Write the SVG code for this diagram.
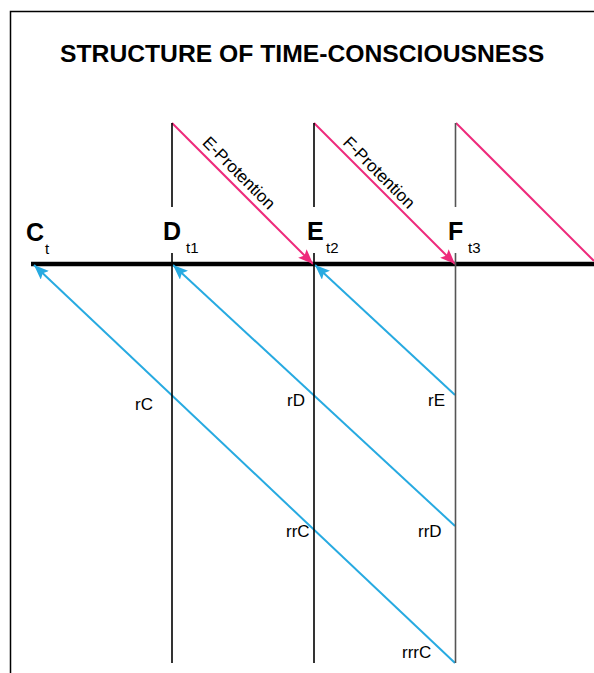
<svg xmlns="http://www.w3.org/2000/svg" width="594" height="673" viewBox="0 0 594 673">
<style>
.frame{stroke:#000;stroke-width:1.5;fill:none}
.vline{stroke:#000;stroke-width:1.6;fill:none}
.vgray{stroke:#555;stroke-width:1.6;fill:none}
.time{stroke:#000;stroke-width:4.5;fill:none}
.pink{stroke:#EE2A7B;stroke-width:2;fill:none}
.blue{stroke:#27AAE1;stroke-width:2;fill:none}
.title{font-family:"Liberation Sans",Arial,sans-serif;font-weight:bold;font-size:24.7px;fill:#000}
.big{font-family:"Liberation Sans",Arial,sans-serif;font-weight:bold;font-size:25px;fill:#000}
.sub{font-family:"Liberation Sans",Arial,sans-serif;font-size:15px;fill:#000}
.lbl{font-family:"Liberation Sans",Arial,sans-serif;font-size:17px;fill:#000}
</style>
<defs>
<marker id="ap" markerUnits="userSpaceOnUse" markerWidth="16" markerHeight="12" refX="15" refY="6" orient="auto">
<path d="M0,0 L15,6 L0,12 L3,6 z" fill="#EE2A7B"/>
</marker>
<marker id="ab" markerUnits="userSpaceOnUse" markerWidth="16" markerHeight="12" refX="15" refY="6" orient="auto">
<path d="M0,0 L15,6 L0,12 L3,6 z" fill="#27AAE1"/>
</marker>
</defs>
<rect width="594" height="673" fill="#fff"/>
<path class="frame" d="M10.5,673 L10.5,11.5 L594,11.5"/>
<text class="title" x="60" y="62">STRUCTURE OF TIME-CONSCIOUSNESS</text>

<g id="connectors">
<line class="time" x1="31" y1="264" x2="594" y2="264"/>
<line class="pink" x1="172" y1="123" x2="313" y2="264" marker-end="url(#ap)"/>
<line class="pink" x1="314" y1="123" x2="455" y2="264" marker-end="url(#ap)"/>
<line class="pink" x1="456" y1="123" x2="594" y2="261"/>
<line class="blue" x1="455" y1="663" x2="34" y2="265" marker-end="url(#ab)"/>
<line class="blue" x1="455" y1="526" x2="173" y2="265" marker-end="url(#ab)"/>
<line class="blue" x1="455" y1="395" x2="315" y2="265" marker-end="url(#ab)"/>
<text class="lbl" transform="translate(201.5,143.5) rotate(45)">E-Protention</text>
<text class="lbl" transform="translate(342,143.5) rotate(45)">F-Protention</text>
</g>

<g id="node-C">
<text class="big" x="26" y="241">C</text>
<text class="sub" x="45" y="254">t</text>
</g>
<g id="node-D">
<line class="vline" x1="172" y1="123" x2="172" y2="207"/>
<line class="vline" x1="172" y1="253" x2="172" y2="663"/>
<text class="big" x="163" y="240">D</text>
<text class="sub" x="186" y="253">t1</text>
</g>
<g id="node-E">
<line class="vline" x1="314" y1="123" x2="314" y2="207"/>
<line class="vline" x1="314" y1="253" x2="314" y2="663"/>
<text class="big" x="307" y="240">E</text>
<text class="sub" x="326" y="253">t2</text>
</g>
<g id="node-F">
<line class="vgray" x1="455.5" y1="123" x2="455.5" y2="207"/>
<line class="vgray" x1="455.5" y1="253" x2="455.5" y2="663"/>
<text class="big" x="448" y="240">F</text>
<text class="sub" x="468" y="253">t3</text>
</g>

<g id="labels">
<text class="lbl" x="135" y="410">rC</text>
<text class="lbl" x="287" y="406">rD</text>
<text class="lbl" x="428" y="406">rE</text>
<text class="lbl" x="286" y="537">rrC</text>
<text class="lbl" x="418" y="537">rrD</text>
<text class="lbl" x="402" y="658">rrrC</text>
</g>
</svg>
